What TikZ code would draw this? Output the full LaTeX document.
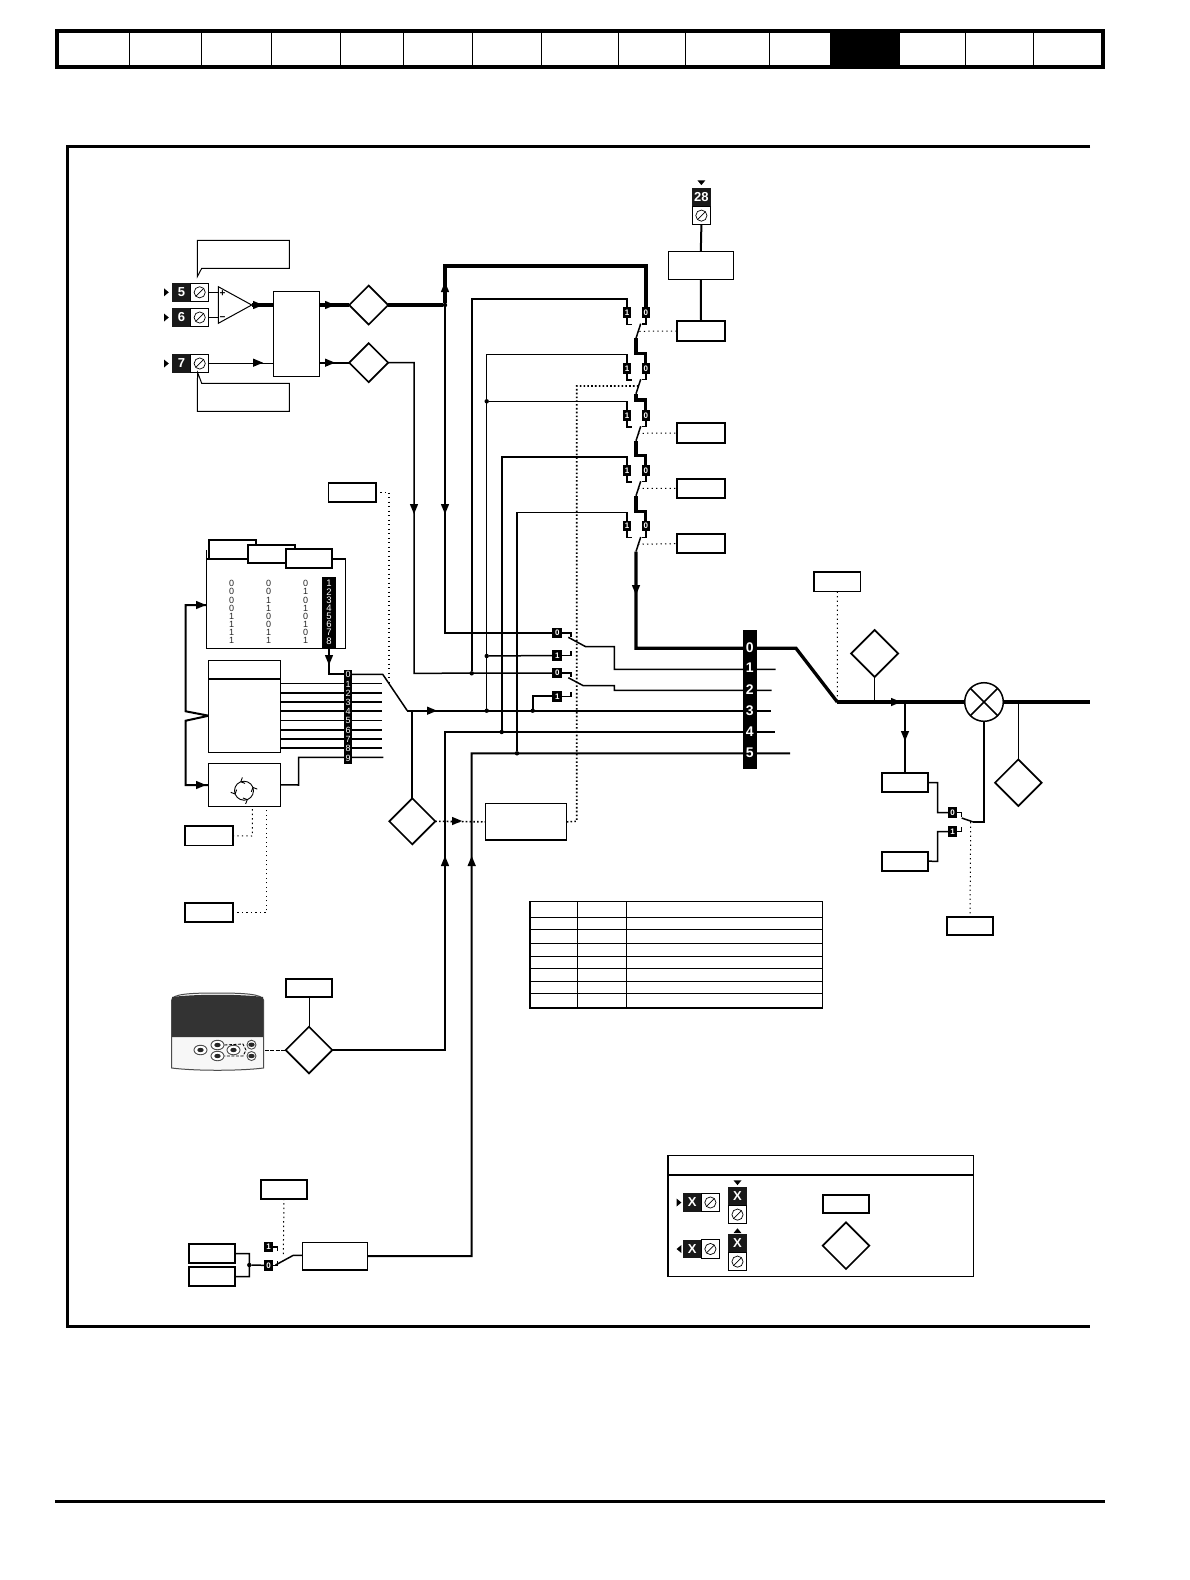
\documentclass[tikz,border=0pt]{standalone}
\usepackage{fontspec}
\setmainfont{Liberation Sans}
\usetikzlibrary{shapes.geometric,backgrounds,calc}
\tikzset{
  lthin/.style={line width=1pt},
  lmed/.style={line width=1.5pt},
  lthick/.style={line width=2pt},
  lheavy/.style={line width=3.3pt},
  ldot/.style={line width=1pt,dash pattern=on 1.3pt off 3.2pt},
  ldotb/.style={line width=1.6pt,dash pattern=on 1.6pt off 2.2pt},
  plain/.style={draw,fill=white,line width=1.1pt,inner sep=0pt,outer sep=0pt},
  pbox/.style={draw,fill=white,line width=1.9pt,inner sep=0pt,outer sep=0pt},
  dia/.style={diamond,draw,fill=white,line width=1.7pt,inner sep=0pt,outer sep=0pt},
  darkbar/.style={fill=black,inner sep=0pt,outer sep=0pt},
  tagn/.style={fill=black,text=white,inner sep=0pt,outer sep=0pt,minimum width=8.6pt,minimum height=10.6pt,font=\bfseries\fontsize{8}{8}\selectfont},
  termb/.style={fill=black!90,text=white,inner sep=0pt,outer sep=0pt,minimum width=18.4pt,minimum height=18.4pt,font=\bfseries\fontsize{13}{13}\selectfont},
  termw/.style={draw,fill=white,line width=0.9pt,inner sep=0pt,outer sep=0pt,minimum width=18pt,minimum height=18.4pt},
  jdot/.style={circle,fill=black,inner sep=0pt,outer sep=0pt,minimum size=4.4pt},
  bigd/.style={text=white,inner sep=0pt,font=\bfseries\fontsize{14}{14}\selectfont},
  midd/.style={text=white,inner sep=0pt,font=\fontsize{9.5}{9.5}\selectfont},
  tabd/.style={text=black!85,inner sep=0pt,font=\fontsize{9}{9}\selectfont},
  keyb/.style={ellipse,draw=black!70,fill=white,line width=0.9pt,minimum width=13pt,minimum height=9.5pt,inner sep=0pt},
}
% rectangle node: style, name, x1, y1, x2, y2
\newcommand{\rectn}[6]{%
  \pgfmathsetmacro\myX{(#3+#5)/2}\pgfmathsetmacro\myY{(#4+#6)/2}%
  \pgfmathsetmacro\myW{#5-#3}\pgfmathsetmacro\myH{#6-#4}%
  \node[#1,minimum width=\myW pt,minimum height=\myH pt] (#2) at (\myX,\myY) {};}
% diamond: name, cx, cy, half
\newcommand{\dian}[4]{%
  \pgfmathsetmacro\myW{2*#4}%
  \node[dia,minimum width=\myW pt,minimum height=\myW pt] (#1) at (#2,#3) {};}
\newcommand{\screw}[1]{%
  \draw[line width=0.7pt] (#1.center) circle (5.6);
  \draw[line width=0.7pt] ($(#1.center)+(-3.8,3.8)$) -- ($(#1.center)+(3.8,-3.8)$);}
% horizontal terminal: name, x of left edge, y centre, label
\newcommand{\termH}[4]{%
  \node[termb,anchor=west] (#1b) at (#2,#3) {#4};
  \node[termw,anchor=west] (#1w) at (#1b.east) {};
  \screw{#1w}}
% vertical terminal: name, x centre, y of top edge, label
\newcommand{\termV}[4]{%
  \node[termb,anchor=north] (#1b) at (#2,#3) {#4};
  \node[termw,anchor=north] (#1w) at (#1b.south) {};
  \screw{#1w}}
% small triangle marker and flow arrow: x, y, angle
\newcommand{\tri}[3]{\fill[shift={(#1,#2)},rotate=#3] (-2.4,-4) -- (2.4,0) -- (-2.4,4) -- cycle;}
\newcommand{\arrowm}[3]{\fill[shift={(#1,#2)},rotate=#3] (-5,-4.2) -- (5,0) -- (-5,4.2) -- cycle;}
\begin{document}
\begin{tikzpicture}[x=1pt,y=-1pt]
\useasboundingbox (0,0) rectangle (1190,1580);

% page header strip
\draw[line width=4pt] (57.4,31.2) rectangle (1103,66.5);
\fill (829.5,31) rectangle (900,66.5);
\foreach \x in {129.4,201.5,271.4,340,403,472.3,541,618.5,685.4,769,965,1033.5}
  \draw[line width=0.9pt] (\x,31) -- (\x,66.5);
% footer rule and frame
\draw[line width=3pt] (55.4,1501.3) -- (1105,1501.3);
\draw[line width=2.5pt] (1090,146.6) -- (67.5,146.6) -- (67.5,1326.5) -- (1090,1326.5);

% analog inputs
\termH{tfive}{172.3}{292.3}{5}
\termH{tsix}{172.3}{317.5}{6}
\termH{tseven}{172.3}{363.5}{7}
\tri{166.4}{292.3}{0}
\tri{166.4}{317.5}{0}
\tri{166.4}{363.5}{0}
\coordinate (ampP) at (218.3,292.3);
\coordinate (ampN) at (218.3,317.5);
\coordinate (ampO) at (251.7,305);
\draw[line width=1pt,fill=white] (218.3,286.7) -- (ampO) -- (218.3,323.3) -- cycle;
\node[inner sep=0pt,font=\bfseries\fontsize{10}{10}\selectfont] (plusS) at (222.6,293.3) {+};
\node[inner sep=0pt,font=\bfseries\fontsize{10}{10}\selectfont] (minusS) at (222.6,318.3) {−};
\draw[line width=1pt,fill=white] (197.3,240.3) -- (289.3,240.3) -- (289.3,268.3) -- (201.7,268.3) -- (197.3,276.7) -- cycle;
\draw[line width=1pt,fill=white] (197.3,411.3) -- (289.3,411.3) -- (289.3,383.3) -- (201.7,383.3) -- (197.7,372.7) -- (197.3,383.3) -- cycle;
\rectn{plain}{sel}{273.3}{291.3}{319.3}{376.3}
\dian{dA}{368.7}{305}{19.5}
\dian{dB}{368.7}{362.7}{19.5}

% terminal 28
\termV{tte}{701.4}{188}{28}
\tri{701.4}{182.7}{-90}
\rectn{plain}{filt}{668.3}{251.3}{733.3}{279.3}
% parameter boxes at the switch chain
\rectn{pbox}{pA}{677.3}{321.3}{724.7}{340.7}
\rectn{pbox}{pC}{677.3}{423.3}{724.7}{442.7}
\rectn{pbox}{pD}{677.3}{478.7}{724.7}{498}
\rectn{pbox}{pE}{677.3}{534}{724.7}{553.3}
\rectn{pbox}{pF}{328.5}{482.6}{375.8}{501.8}

% switch chain tags
\foreach \i/\y in {1/312.7,2/368.3,3/415.3,4/470.3,5/526}{
  \node[tagn] (sa\i) at (627,\y) {1};
  \node[tagn] (sb\i) at (645.8,\y) {0};
}
% lower selector tags
\node[tagn,minimum width=10pt] (Lza) at (557.3,633) {0};
\node[tagn,minimum width=10pt] (Loa) at (557.3,655.5) {1};
\node[tagn,minimum width=10pt] (Lzb) at (557.3,673) {0};
\node[tagn,minimum width=10pt] (Lob) at (557.3,696.3) {1};
% main selector bar
\rectn{darkbar}{bar}{743}{630}{757}{768.7}
\foreach \n/\y in {0/647.3,1/668,2/689.3,3/710.7,4/732,5/753}
  \node[bigd] (barD\n) at (749.7,\y) {\n};
% junctions
\node[jdot] (jA) at (445,305) {};
\node[jdot] (jB) at (471.7,673.3) {};
\node[jdot] (jC) at (486.7,710.7) {};
\node[jdot] (jD) at (486.7,656) {};
\node[jdot] (jE) at (486.7,401.3) {};
\node[jdot] (jF) at (501.7,732) {};
\node[jdot] (jG) at (517,753.3) {};
\node[jdot] (jH) at (532.7,710.7) {};
\node[jdot] (jI) at (249.3,1265) {};
% decode table
\rectn{plain}{tblA}{206.3}{559}{345.7}{648.3}
\draw[line width=1.1pt] (206.3,550) -- (tblA.north west);
\rectn{pbox}{tblBa}{209}{540}{256.3}{559}
\rectn{pbox}{tblBb}{248}{544.7}{295}{563.3}
\rectn{pbox}{tblBc}{285.7}{549.3}{332.3}{568.3}
\foreach \n/\a/\b/\c [count=\r from 0] in {1/0/0/0,2/0/0/1,3/0/1/0,4/0/1/1,5/1/0/0,6/1/0/1,7/1/1/0,8/1/1/1}{
  \pgfmathsetmacro\yy{583.7+8.15*\r}
  \node[tabd] (ca\n) at (231.7,\yy) {\a};
  \node[tabd] (cb\n) at (268.7,\yy) {\b};
  \node[tabd] (cc\n) at (305.7,\yy) {\c};
}
\rectn{darkbar}{tblBar}{322.3}{577}{336}{648.3}
\foreach \n [count=\r from 0] in {1,...,8}{
  \pgfmathsetmacro\yy{583.7+8.15*\r}
  \node[midd] (tn\n) at (329,\yy) {\n};
}
% preset block
\rectn{plain}{prs}{208.7}{660.3}{280.7}{752.3}
\draw[line width=2pt] (prs.west |- 0,679) -- (prs.east |- 0,679);
\rectn{darkbar}{pbar}{344}{670}{352}{764}
\foreach \n/\y in {0/674.3,1/684,2/693.3,3/702.3,4/711.3,5/720.7,6/730,7/739.3,8/748.3,9/758}
  \node[midd,font=\fontsize{9}{9}\selectfont] (pb\n) at (348,\y) {\n};
\rectn{plain}{seq}{208.7}{763.3}{280.7}{806.3}
% sequencer cycle icon
\draw[line width=0.9pt] (244,790.7) circle (9.5);
\foreach \a in {20,110,200,290}{
  \draw[line width=0.9pt,shift={(244,790.7)},rotate=\a] (9.5,0) -- ++(-3,3.5) (9.5,0) -- ++(3.5,3);
}
\rectn{pbox}{sA}{185.4}{826}{232.8}{845.5}
\rectn{pbox}{sB}{185.4}{903}{232.8}{922}

% keypad
\draw[line width=1pt,draw=black!70,fill=black!3] (171.7,1000) .. controls (172,994) and (190,993) .. (216,993) .. controls (245,993) and (262,994) .. (263.5,1000) -- (263.5,1068) .. controls (240,1071) and (195,1071) .. (171.7,1068) -- cycle;
\fill[black!80] (172,997) .. controls (195,994) and (240,994) .. (263.2,997) -- (263.2,1037) -- (172,1037) -- cycle;
\node[keyb] (kL) at (200.5,1050) {};
\node[keyb] (kU) at (217.5,1045) {};
\node[keyb] (kD) at (217.5,1056) {};
\node[keyb] (kR) at (233.5,1050) {};
\node[keyb,minimum width=9pt,minimum height=9pt] (kA) at (251.5,1044.7) {};
\node[keyb,minimum width=9pt,minimum height=9pt] (kB) at (251.5,1056) {};
\foreach \k in {kL,kU,kD,kR,kA,kB}
  \fill[black!85] (\k.center) ellipse (3.2 and 2.2);
\draw[line width=0.9pt,dash pattern=on 3pt off 1.5pt] (kU.east) -- (243,1044) -- (246,1050) -- (243,1056) -- (kD.east);
\dian{dK}{309}{1050}{23.3}
\rectn{pbox}{pK}{285.7}{978.7}{332.3}{997.3}

% speed source block
\rectn{pbox}{pG}{260.7}{1179.7}{307.3}{1198.7}
\rectn{plain}{boxPW}{302.3}{1242.3}{367.3}{1270}
\rectn{pbox}{pH}{188.7}{1244.3}{235.3}{1263}
\rectn{pbox}{pI}{188.7}{1267.3}{235.3}{1286}
\node[tagn] (Pone) at (268.6,1247) {1};
\node[tagn] (Pzero) at (268.6,1265.3) {0};

% centre lower blocks
\dian{dC}{412.3}{821.3}{23}
\rectn{plain}{boxC}{485.3}{803.7}{566.7}{840}

% right side
\rectn{pbox}{pJ}{814}{572}{860.5}{591.5}
\dian{dD}{874.6}{653.5}{23.5}
\node[circle,draw,fill=white,line width=1.5pt,inner sep=0pt,outer sep=0pt,minimum size=38.6pt] (mult) at (984,702) {};
\draw[line width=1.5pt] (mult.45) -- (mult.225) (mult.135) -- (mult.315);
\rectn{pbox}{pL}{881.7}{773.3}{928.3}{792}
\rectn{pbox}{pM}{881.7}{851.7}{928.3}{870.7}
\rectn{pbox}{pN}{946.7}{916.7}{993.3}{935.3}
\dian{dE}{1018.3}{782.7}{23.3}
\node[tagn] (Rz) at (952.5,812.7) {0};
\node[tagn] (Ro) at (952.5,831.7) {1};

% table
\draw[line width=1.5pt] (530,901.3) rectangle (822.7,1008);
\foreach \y in {917.3,929.3,943.3,956,968.7,981.3,993.3}
  \draw[line width=1pt] (530,\y) -- (822.7,\y);
\foreach \x in {577.3,626.7}
  \draw[line width=1.2pt] (\x,901.3) -- (\x,1008);

% legend
\draw[line width=1.5pt] (668,1155.3) rectangle (973.3,1276.7);
\draw[line width=1.3pt] (668,1175) -- (973.3,1175);
\termH{lgA}{683}{1202.5}{X}
\termH{lgB}{683}{1249}{X}
\termV{lgC}{737.5}{1187}{X}
\termV{lgD}{737.5}{1234}{X}
\tri{679}{1202.5}{0}
\tri{679}{1249}{180}
\tri{737.5}{1182.7}{-90}
\tri{737.5}{1230.7}{90}
\rectn{pbox}{lgBox}{822.7}{1194.7}{869.3}{1213.3}
\dian{lgDia}{846}{1245.7}{23.3}

% ---------- connectors ----------
\begin{scope}[on background layer]
\fill[white] (0,0) rectangle (1190,1580);
% inputs
\draw[lthin] (tfivew.east) -- (ampP);
\draw[lmed] (tsixw.east) -- (ampN);
\draw[line width=1.8pt] (tsevenw.east) -- (tsevenw.east -| sel.west);
\draw[line width=3.8pt] (ampO) -- (sel.west |- ampO);
\draw[line width=3.8pt] (sel.east |- dA) -- (dA.west);
\draw[line width=1.8pt] (sel.east |- dB) -- (dB.west);
\draw[line width=3.8pt] (dA.east) -- (jA);
% thick feed to switch chain
\draw[line width=3.5pt] (jA) -- (445,266) -| (sb1.north);
% terminal 28
\draw[lthick] (ttew.south) -- (filt.north);
\draw[lthick] (filt.south) -- (pA.north);
% chain of changeover switches
\foreach \i/\j/\y/\jog in {1/2/312.7/353.3,2/3/368.3/400,3/4/415.3/455.3,4/5/470.3/511.3}{
  \draw[lheavy] (636,\y+25.5) -- (636,\jog) -| (sb\j.north);
}
\foreach \i/\y in {1/312.7,2/368.3,3/415.3,4/470.3,5/526}{
  \draw[lmed] (sa\i.south) -- ++(0,6.3) -- ++(4.7,0);
  \draw[lmed] (sb\i.south) -- ++(0,6) -- ++(-4,0);
  \draw[lmed] (640.7,\y+11) -- (636,\y+25.5);
}
\draw[lheavy] (636,551.5) -- (636,648.3) -- (796,648.3) -- (837.3,702);
\draw[line width=3.8pt] (837.3,702) -- (mult.west);
\draw[line width=3.8pt] (mult.east) -- (1090,702);
% inputs to chain
\draw[lthick] (jB) -- (471.7,299) -| (sa1.north);
\draw[lmed] (jC) -- (486.7,354.3) -| (sa2.north);
\draw[lmed] (jE) -| (sa3.north);
\draw[lthick] (jF) -- (501.7,457) -| (sa4.north);
\draw[lmed] (jG) -- (517,512.3) -| (sa5.north);
% dotted controls of chain
\draw[ldot] (639.3,331.3) -- (pA.west);
\draw[ldot] (638,433.3) -- (pC.west);
\draw[ldot] (638,488.3) -- (pD.west);
\draw[ldot] (638,544.3) -- (pE.west);
\draw[ldotb] (boxC.east) -- (576.7,821.3) -- (576.7,386) -- (638.5,386);
\draw[ldotb] (dC.east) -- (boxC.west);
\draw[ldot,line width=1.3pt] (pF.east) -- (389,492.2) -- (389,683);
% tall buses
\draw[lmed] (jA) |- (Lza.west);
\draw[lmed] (dB.east) -- (414,362.7) -- (414,673.3) -- (Lzb.west);
\draw[lmed] (jD) -- (Loa.west);
\draw[lthick] (jH) |- (Lob.west);
% lower selector
\draw[lmed] (Lza.east) -- (571,633) -- (571,636.7);
\draw[lmed] (Loa.east) -- (571,655.5) -- (571,650.7);
\draw[lmed] (Lzb.east) -- (571,673) -- (571,677);
\draw[lmed] (Lob.east) -- (571,696.3) -- (571,692);
\draw[lmed] (568.3,637.3) -- (585.7,646.7) -- (614.3,646.7) -- (614.3,669.3) -- (775.7,669.3);
\draw[lmed] (568.3,677.7) -- (583.3,685.7) -- (614.3,685.7) -- (614.3,690.3) -- (771.7,690.3);
% buses 3 to 5
\draw[lthick] (407.3,710.7) -- (770.7,710.7);
\draw[lthick] (dK.east) -- (445,1050) -- (445,732) -- (775,732);
\draw[lthick] (boxPW.east) -- (471.7,1256.2) -- (471.7,753.3) -- (790,753.3);
\draw[lthick] (412.3,710.7) -- (dC.north);
% preset selector
\draw[lthick] (tblBar.south) |- (pbar.west |- pb0);
\draw[lmed] (pb0.east) -- (382.7,674.3) -- (407.3,710.7);
\foreach \y/\s in {683.3/lthin,693/lthick,702/lthick,711/lthick,720.7/lthin,730/lthick,739/lthick,748/lthick}
  \draw[\s] (prs.east |- 0,\y) -- (382,\y);
\draw[lmed] (seq.east) -- (298.7,785) -- (298.7,757.3) -- (383.3,757.3);
% loop to table and sequencer
\draw[lthick] (tblA.west |- 0,605) -- (185.7,605) -- (185.7,711.3) -- (prs.west |- 0,715.7) -- (185.7,720.7) -- (185.7,785) -- (seq.west |- 0,785);
\draw[ldot] (sA.east) -- (252.3,836) -- (252.3,806.3);
\draw[ldot] (sB.east) -- (266.7,912.5) -- (266.7,806.3);
% keypad
\draw[lthin,dash pattern=on 3pt off 1.5pt] (kA.south) -- (kB.north);
\draw[lthin,dash pattern=on 4pt off 1.5pt] (248,1050) -- (dK.west);
\draw[lthin] (pK.south) -- (dK.north);
% PWM source
\draw[ldot] (pG.south) -- (283.3,1255.7);
\draw[lmed] (pH.east) -- (249.3,1253.6) -- (249.3,1276.6) -- (pI.east);
\draw[lmed] (jI) -- (Pzero.west);
\draw[lmed] (Pone.east) -- (277.3,1247) -- (277.3,1250.5);
\draw[lmed] (Pzero.east) -- (277.3,1265.3) -- (277.3,1261);
\draw[lmed] (275.5,1265) -- (293.3,1255.3) -- (boxPW.west |- 0,1255.3);
% right side
\draw[ldot] (pJ.south) -- (837.3,701);
\draw[lmed] (dD.south) -- (874.6,702);
\draw[lthick] (905,702) -- (pL.north);
\draw[lmed] (pL.east) -- (937.7,782.7) -- (937.7,812.7) -- (Rz.west);
\draw[lmed] (pM.east) -- (937.7,861.3) -- (937.7,831.7) -- (Ro.west);
\draw[lmed] (Rz.east) -- (961.3,812.7) -- (961.3,817.3);
\draw[lmed] (Ro.east) -- (961.3,831.7) -- (961.3,827);
\draw[lmed] (961.7,818) -- (973.3,822);
\draw[lthick] (973.3,822) -- (984,822) -- (mult.south);
\draw[ldot] (970.7,822) -- (pN.north);
\draw[lmed] (1018.3,702) -- (dE.north);
\end{scope}
% mid-line arrow heads
\arrowm{258}{305}{0}
\arrowm{258}{362.7}{0}
\arrowm{330}{305}{0}
\arrowm{330}{362.7}{0}
\arrowm{445}{287}{90}
\arrowm{445}{509}{-90}
\arrowm{414}{509}{-90}
\arrowm{636}{590}{-90}
\arrowm{432}{710.7}{0}
\arrowm{457}{821}{0}
\arrowm{445}{861}{90}
\arrowm{471.7}{861}{90}
\arrowm{896}{702}{0}
\arrowm{905}{736}{-90}
\arrowm{329}{660}{-90}
\arrowm{201}{605}{0}
\arrowm{201}{785}{0}
\end{tikzpicture}
\end{document}
